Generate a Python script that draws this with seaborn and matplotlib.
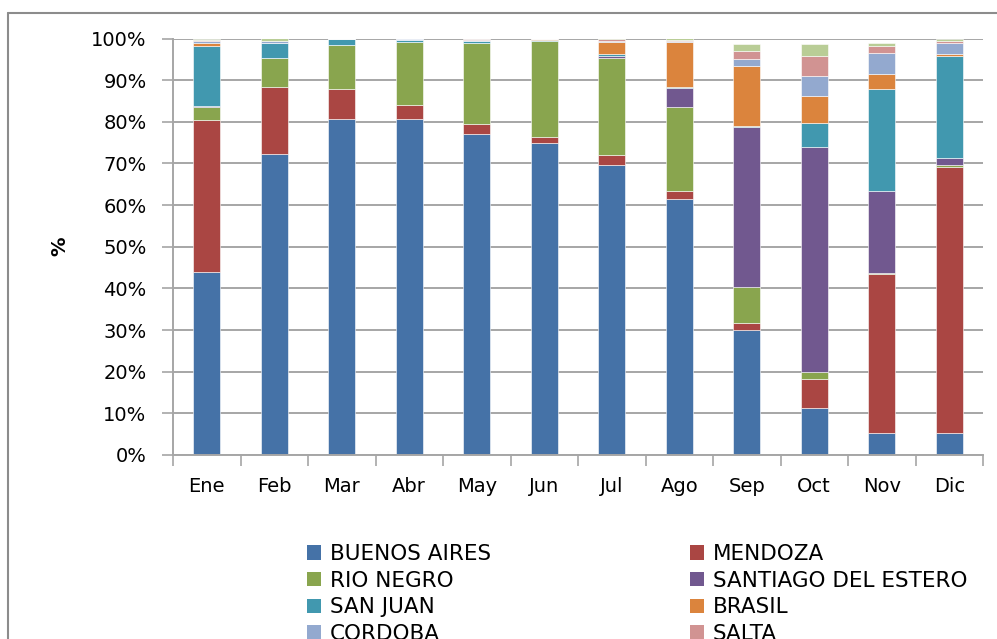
import numpy as np
import pandas as pd
import matplotlib
matplotlib.use("Agg")
import matplotlib.pyplot as plt
import seaborn as sns
from matplotlib.patches import Patch
from matplotlib.lines import Line2D

# ==========================================================
# DATA (percent of monthly total)
# ==========================================================

months = ["Ene", "Feb", "Mar", "Abr", "May", "Jun",
          "Jul", "Ago", "Sep", "Oct", "Nov", "Dic"]

buenos_aires = [44.0, 72.3, 80.7, 80.6, 77.0, 74.8, 69.6, 61.5, 30.0, 11.2, 5.4, 5.4]
mendoza      = [36.4, 16.1, 7.2, 3.5, 2.4, 1.6, 2.4, 2.0, 1.6, 7.1, 38.0, 63.8]
rio_negro    = [3.1, 6.8, 10.5, 15.1, 19.6, 22.9, 23.2, 20.1, 8.7, 1.7, 0.4, 0.4]
santiago     = [0.2, 0.0, 0.0, 0.0, 0.0, 0.2, 0.6, 4.6, 38.5, 53.9, 19.6, 1.6]
san_juan     = [14.6, 3.8, 1.5, 0.4, 0.5, 0.1, 0.4, 0.2, 0.3, 5.7, 24.4, 24.7]
brasil       = [0.7, 0.0, 0.0, 0.0, 0.0, 0.4, 3.0, 10.7, 14.3, 6.6, 3.6, 0.3]
cordoba      = [0.4, 0.3, 0.1, 0.4, 0.2, 0.0, 0.3, 0.2, 1.6, 4.8, 5.1, 2.7]
salta        = [0.3, 0.2, 0.0, 0.0, 0.3, 0.0, 0.3, 0.3, 2.1, 4.8, 1.8, 0.5]
otros        = [0.3, 0.5, 0.0, 0.0, 0.0, 0.0, 0.2, 0.4, 1.6, 2.9, 0.7, 0.5]

series = [
    ("BUENOS AIRES", buenos_aires, "#4572A7"),
    ("MENDOZA", mendoza, "#AA4643"),
    ("RIO NEGRO", rio_negro, "#89A54E"),
    ("SANTIAGO DEL ESTERO", santiago, "#71588F"),
    ("SAN JUAN", san_juan, "#4198AF"),
    ("BRASIL", brasil, "#DB843D"),
    ("CORDOBA", cordoba, "#93A9CF"),
    ("SALTA", salta, "#D19392"),
    ("OTROS", otros, "#B9CD96"),
]

# ==========================================================
# PLOT
# ==========================================================

sns.set_style("white")
plt.rcParams["font.family"] = ["DejaVu Sans"]

fig = plt.figure(figsize=(9.97, 6.39), dpi=100)
ax = fig.add_axes([173 / 997, 1 - 455 / 639, 810 / 997, (455 - 38.5) / 639])

bottom = np.zeros(len(months))
for name, vals, col in series:
    sns.barplot(x=months, y=vals, bottom=bottom, color=col, width=0.4,
                saturation=1, edgecolor="white", linewidth=0.4, ax=ax)
    bottom = bottom + np.array(vals)

ax.set_xlim(-0.5, 11.5)
ax.set_ylim(0, 100)
ax.set_yticks(np.arange(0, 101, 10))
ax.set_yticklabels([f"{v}%" for v in range(0, 101, 10)])
ax.grid(axis="y", color="#a6a6a6", linewidth=1.4)
ax.set_axisbelow(True)

for s in ["top", "right"]:
    ax.spines[s].set_visible(False)
for s in ["left", "bottom"]:
    ax.spines[s].set_color("#a6a6a6")
    ax.spines[s].set_linewidth(1.4)

ax.tick_params(axis="y", length=8, width=1.2, color="#a6a6a6", pad=11,
               labelsize=14, labelcolor="black", left=True)
ax.set_xticks(np.arange(-0.5, 12, 1), minor=True)
ax.tick_params(axis="x", which="minor", length=8, width=1.2, color="#a6a6a6",
               bottom=True)
ax.tick_params(axis="x", which="major", length=0, pad=16, labelsize=14,
               labelcolor="black")

ax.set_xlabel("")
ax.set_ylabel("%", fontsize=14, fontweight="bold", color="black")
ax.yaxis.set_label_coords(-0.128, 0.5)

# legend (two columns, filled row by row like the original; the last row
# falls below the picture edge, as in the original)
handles = [Patch(facecolor=c, edgecolor="none") for _, _, c in series]
labels = [n for n, _, _ in series]
left_idx = [0, 2, 4, 6]
right_idx = [1, 3, 5, 7]
leg_kw = dict(frameon=False, fontsize=15.5, handlelength=0.65, handleheight=0.65,
              handletextpad=0.4, labelspacing=0.31, borderpad=0, borderaxespad=0,
              loc="upper left", labelcolor="black")
fig.legend([handles[i] for i in left_idx], [labels[i] for i in left_idx],
           bbox_to_anchor=(307 / 997, 1 - 544 / 639), **leg_kw)
fig.legend([handles[i] for i in right_idx], [labels[i] for i in right_idx],
           bbox_to_anchor=(690 / 997, 1 - 544 / 639), **leg_kw)

# chart area border
border = "#8c8c8c"
fig.add_artist(Line2D([8 / 997, 8 / 997], [0, 1 - 13 / 639], color=border,
                      linewidth=1.5, transform=fig.transFigure))
fig.add_artist(Line2D([8 / 997, 1], [1 - 13 / 639, 1 - 13 / 639], color=border,
                      linewidth=1.5, transform=fig.transFigure))

fig.savefig("out.png", dpi=100)
